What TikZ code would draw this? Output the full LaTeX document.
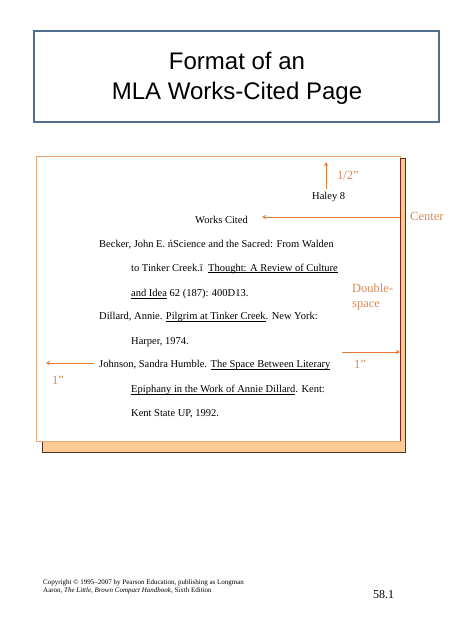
\documentclass[tikz,border=0pt]{standalone}
\usepackage{fontspec}
\setmainfont{Liberation Serif}
\newfontfamily\titlefont{Liberation Sans}
\usetikzlibrary{arrows.meta}
\definecolor{titleblue}{HTML}{4F6E90}
\definecolor{pageedge}{HTML}{E8A878}
\definecolor{shadowfill}{HTML}{FFCB95}
\definecolor{shadowedge}{HTML}{4A3522}
\definecolor{annot}{HTML}{E57A35}
\definecolor{annottext}{HTML}{DC8A55}
\newcommand{\ulx}[1]{\setbox0\hbox{#1}\rlap{\rule[-1.6pt]{\wd0}{0.5pt}}\box0\relax}
\tikzset{
  x=1pt, y=-1pt,
  body/.style={font=\fontsize{10.5}{12}\selectfont, anchor=base west, inner sep=0pt, text=black},
  note/.style={font=\fontsize{12.5}{13}\selectfont, inner sep=0pt, text=annottext, align=left},
  marker/.style={draw=annot, line width=0.9pt, -{Stealth[length=4pt,width=4pt]}},
}
\begin{document}
\begin{tikzpicture}
\useasboundingbox (0,0) rectangle (474,631);
\fill[white] (0,0) rectangle (474,631);
% title box
\draw[titleblue, line width=1.6pt] (34,31) rectangle (439,122);
\node[font=\titlefont\fontsize{24}{30}\selectfont, align=center, inner sep=0pt] (title) at (237,78) {Format of an\\MLA Works-Cited Page};
% page shadow and page
\draw[shadowedge, fill=shadowfill, line width=0.9pt] (42,158) rectangle (405,452);
\draw[pageedge, fill=white, line width=1pt] (36,157) rectangle (400,441);
\draw[shadowedge!70!red, line width=0.9pt] (400,158) -- (400,441);
% text of the page
\node[body] (haley) at (312,199.5) {Haley 8};
\node[body, anchor=base] (wc) at (221.5,223.5) {Works Cited};
\node[body] (l1) at (99,247.5) {Becker, John E. ńScience and the Sacred: From Walden};
\node[body] (l2) at (131,271) {to Tinker Creek.ī\ \ \ulx{Thought: A Review of Culture}};
\node[body] (l3) at (131,296.5) {\ulx{and Idea} 62 (187): 400D13.};
\node[body] (l4) at (99,319.5) {Dillard, Annie. \ulx{Pilgrim at Tinker Creek}. New York:};
\node[body] (l5) at (131,344.5) {Harper, 1974.};
\node[body] (l6) at (99,367.5) {Johnson, Sandra Humble. \ulx{The Space Between Literary}};
\node[body] (l7) at (131,392.5) {\ulx{Epiphany in the Work of Annie Dillard}. Kent:};
\node[body] (l8) at (131,416.5) {Kent State UP, 1992.};
% annotations
\coordinate (halfA) at (326,189);
\coordinate (halfB) at (326,162);
\draw[marker] (halfA) -- (halfB);
\node[note, anchor=west] (half) at (337,175) {1/2”};
\coordinate (cenA) at (400,217);
\coordinate (cenB) at (262,217);
\draw[marker] (cenA) -- (cenB);
\node[note, anchor=west] (center) at (410,216) {Center};
\node[note, anchor=north west, font=\fontsize{12.5}{15}\selectfont] (dbl) at (352,284) {Double-\\space};
\coordinate (rA) at (342,352);
\coordinate (rB) at (400,352);
\draw[marker] (rA) -- (rB);
\node[note, anchor=west] (rone) at (354,364) {1”};
\coordinate (lA) at (94,363);
\coordinate (lB) at (46,363);
\draw[marker] (lA) -- (lB);
\node[note, anchor=west] (lone) at (52,380) {1”};
% footer
\node[font=\fontsize{7}{8}\selectfont, anchor=north west, align=left, inner sep=0pt] (copy) at (43,579) {Copyright © 1995–2007 by Pearson Education, publishing as Longman\\Aaron, \textit{The Little, Brown Compact Handbook}, Sixth Edition};
\node[font=\fontsize{12}{14}\selectfont, anchor=west, inner sep=0pt] (num) at (373,595) {58.1};
\end{tikzpicture}
\end{document}
